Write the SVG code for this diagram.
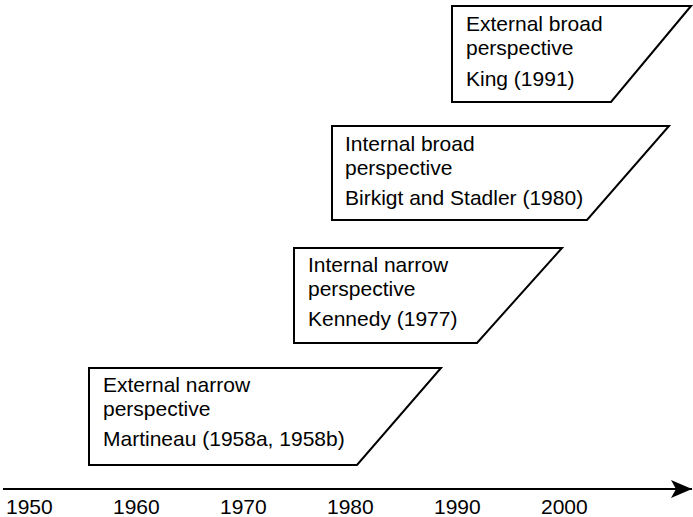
<svg xmlns="http://www.w3.org/2000/svg" width="693" height="517" viewBox="0 0 693 517">
<style>
.box{fill:#fff;stroke:#000;stroke-width:2;stroke-linejoin:miter}
text{font-family:"Liberation Sans",Arial,sans-serif;font-size:21px;fill:#000}
.axis{stroke:#000;stroke-width:2;fill:none}
</style>
<defs>
<marker id="arr" markerUnits="userSpaceOnUse" markerWidth="22" markerHeight="20" refX="21" refY="10" orient="auto">
<path d="M0,1 L21,10 L0,19 L5,10 Z" fill="#000"/>
</marker>
</defs>
<rect width="693" height="517" fill="#fff"/>
<g id="connectors">
<line class="axis" x1="3" y1="489" x2="692" y2="489" marker-end="url(#arr)"/>
</g>
<g id="axis-labels">
<text x="6" y="514">1950</text>
<text x="113" y="514">1960</text>
<text x="220" y="514">1970</text>
<text x="327" y="514">1980</text>
<text x="434" y="514">1990</text>
<text x="541" y="514">2000</text>
</g>
<g id="node-king">
<path class="box" d="M452,6 L691,6 L611,102 L452,102 Z"/>
<text x="466" y="31">External broad</text>
<text x="466" y="55">perspective</text>
<text x="466" y="86">King (1991)</text>
</g>
<g id="node-birkigt">
<path class="box" d="M332,126 L669,126 L587,220 L332,220 Z"/>
<text x="345" y="151">Internal broad</text>
<text x="345" y="175">perspective</text>
<text x="345" y="205">Birkigt and Stadler (1980)</text>
</g>
<g id="node-kennedy">
<path class="box" d="M294,248 L562,248 L477,343 L294,343 Z"/>
<text x="308" y="272">Internal narrow</text>
<text x="308" y="296">perspective</text>
<text x="308" y="326">Kennedy (1977)</text>
</g>
<g id="node-martineau">
<path class="box" d="M89,368 L441,368 L357,465 L89,465 Z"/>
<text x="103" y="392">External narrow</text>
<text x="103" y="416">perspective</text>
<text x="103" y="446">Martineau (1958a, 1958b)</text>
</g>
</svg>
